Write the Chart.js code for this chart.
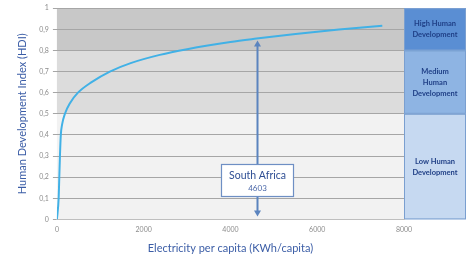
<!DOCTYPE html>
<html><head><meta charset="utf-8">
<script src="https://cdn.jsdelivr.net/npm/chart.js@4"></script>
<style>html,body{margin:0;padding:0;background:#fff}#wrap{width:466px;height:256px}</style>
</head><body><div id="wrap"><canvas id="c" width="466" height="256"></canvas></div>
<script>
const electricity = [0, 40, 55, 70, 90, 120, 185, 300, 485, 800, 1220, 1700, 2370, 3000, 4000, 4600, 5500, 6500, 7500];
const hdi = [0, 0.1, 0.2, 0.3, 0.4, 0.45, 0.5, 0.55, 0.6, 0.65, 0.7, 0.74, 0.779, 0.806, 0.84, 0.856, 0.878, 0.899, 0.917];
const bandLimits = [0, 0.5, 0.8, 1];
const bandLabels = [["Low Human","Development"],["Medium","Human","Development"],["High Human","Development"]];
const countryName = "South Africa";
const countryValue = 4603;
const countryHdi = 0.856;
const xTicks = [0, 2000, 4000, 6000, 8000];

const bandFill = ['#f2f2f2','#dcdcdc','#c8c8c8'];
const panelFill = ['#c6d9f1','#8eb4e3','#5a8ed3'];

const bandsPlugin = {
  id:'bands',
  beforeDraw(chart){
    const {ctx, chartArea:a, scales:{x,y}} = chart;
    ctx.save();
    for(let i=0;i<3;i++){
      const t=y.getPixelForValue(bandLimits[i+1]), b=y.getPixelForValue(bandLimits[i]);
      ctx.fillStyle=bandFill[i];
      ctx.fillRect(a.left,t,a.right-a.left,b-t);
      const px=x.getPixelForValue(8000);
      ctx.fillStyle=panelFill[i];
      ctx.fillRect(px,t,chart.width-px,b-t);
      ctx.strokeStyle='#7a9fd0';ctx.lineWidth=1;
      ctx.strokeRect(px+0.5,t+0.5,chart.width-px-1,b-t-1);
      ctx.fillStyle='#1f3f86';
      ctx.font='bold 7.5px Lato';
      ctx.textAlign='center';ctx.textBaseline='middle';
      const lines=bandLabels[i];const cx=(px+chart.width)/2, cy=(t+b)/2;
      lines.forEach((l,k)=>ctx.fillText(l,cx,cy+(k-(lines.length-1)/2)*11));
    }
    ctx.restore();
  },
  afterDatasetsDraw(chart){
    const {ctx, scales:{x,y}} = chart;
    const px=Math.round(x.getPixelForValue(countryValue))+0.5;
    const top=y.getPixelForValue(countryHdi)+2, bot=y.getPixelForValue(0)-3;
    ctx.save();
    ctx.strokeStyle='#5b84bf';ctx.fillStyle='#5b84bf';ctx.lineWidth=2;
    ctx.beginPath();ctx.moveTo(px,top+4);ctx.lineTo(px,bot-4);ctx.stroke();
    ctx.beginPath();ctx.moveTo(px,top);ctx.lineTo(px-3.5,top+6);ctx.lineTo(px+3.5,top+6);ctx.closePath();ctx.fill();
    ctx.beginPath();ctx.moveTo(px,bot);ctx.lineTo(px-3.5,bot-6);ctx.lineTo(px+3.5,bot-6);ctx.closePath();ctx.fill();
    const bw=72,bh=32,by=y.getPixelForValue(0.26);
    ctx.fillStyle='#ffffff';ctx.fillRect(px-bw/2,by,bw,bh);
    ctx.lineWidth=1.2;ctx.strokeStyle='#6e8fc4';ctx.strokeRect(px-bw/2,by,bw,bh);
    ctx.fillStyle='#2e4e94';ctx.textAlign='center';ctx.textBaseline='middle';
    ctx.font='10.5px Lato';ctx.fillText(countryName,px,by+11);
    ctx.font='8px Lato';ctx.fillStyle='#4a67a8';ctx.fillText(String(countryValue),px,by+24);
    ctx.restore();
  }
};

new Chart(document.getElementById('c'),{
  type:'scatter',
  data:{datasets:[{data:electricity.map((v,i)=>({x:v,y:hdi[i]})),showLine:true,borderColor:'#41b1e6',borderWidth:2,pointRadius:0,tension:0.4,cubicInterpolationMode:'monotone',fill:false}]},
  options:{
    responsive:false,animation:false,
    layout:{padding:{left:16,right:62,top:3,bottom:0}},
    plugins:{legend:{display:false},tooltip:{enabled:false}},
    scales:{
      x:{type:'linear',min:0,max:8000,
        afterBuildTicks(s){s.ticks=xTicks.map(v=>({value:v}));},
        grid:{display:false,drawTicks:true,tickLength:3},
        border:{display:true,color:'#bfbfbf'},
        ticks:{color:'#8c8c8c',font:{size:7,family:'Lato'},padding:3,maxRotation:0,callback:v=>String(v)},
        title:{display:true,text:'Electricity per capita (KWh/capita)',color:'#3b5da6',font:{size:11,family:'Lato'},padding:{top:5,bottom:1}}},
      y:{min:0,max:1,
        ticks:{stepSize:0.1,color:'#8c8c8c',font:{size:7,family:'Lato'},padding:4,callback:v=>String(Math.round(v*10)/10).replace('.',',')},
        grid:{color:'#a6a6a6',lineWidth:1,tickLength:4,tickColor:'#a6a6a6'},
        border:{display:false},
        title:{display:true,text:'Human Development Index (HDI)',color:'#3b5da6',font:{size:11,family:'Lato'},padding:{top:0,bottom:6}}}
    }
  },
  plugins:[bandsPlugin]
});
</script></body></html>
